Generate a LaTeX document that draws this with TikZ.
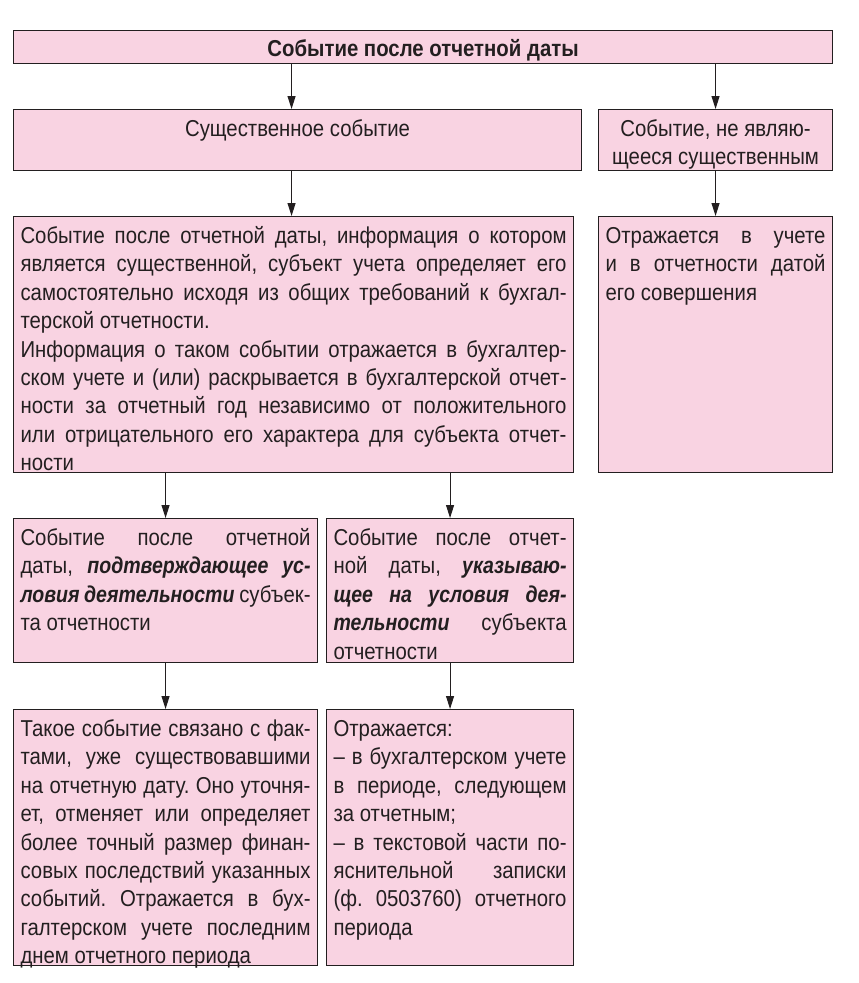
\documentclass[tikz,border=0pt]{standalone}
\usepackage{fontspec}
\setmainfont{Liberation Sans}[FakeStretch=0.885,BoldItalicFeatures={FakeStretch=0.85}]
\usepackage{xcolor}
\usepackage{tikz}
\usetikzlibrary{arrows.meta}

\definecolor{cardpink}{RGB}{249,211,226}
\definecolor{linec}{RGB}{35,31,32}

% text block of a card: width, height, content
\newcommand{\cardtext}[3]{\parbox[t][#2][t]{#1}{\rule{0pt}{27pt}#3}}
\newcommand{\bi}[1]{\textbf{\textit{#1}}}

\begin{document}
\fontsize{23}{28.4}\selectfont
\frenchspacing
\spaceskip=.27em plus .5em minus .11em
\hyphenpenalty=10000 \tolerance=10000
\begin{tikzpicture}[
  x=1pt, y=-1pt,
  card/.style={draw=linec,fill=cardpink,text=linec,line width=1.1pt,inner xsep=7pt,inner ysep=0pt,anchor=north west},
  arr/.style={-{Triangle[length=13pt,width=8pt]},line width=1pt,draw=linec}
]
  \useasboundingbox[fill=white] (0,0) rectangle (859,983);

  \node[card] (top) at (13,30) {\parbox[t][33pt][t]{805pt}{\centering\rule{0pt}{26pt}\textbf{Событие после отчетной даты}}};
  \node[card] (sus) at (13,109) {\cardtext{554pt}{61pt}{\centering Существенное событие}};
  \node[card] (nonmat) at (598,109) {\cardtext{220pt}{61pt}{\centering Событие, не являю-\\щееся существенным}};

  \node[card] (big) at (13,216) {\cardtext{546pt}{256pt}{Событие после отчетной даты, информация о котором\linebreak
    является существенной, субъект учета определяет его\linebreak
    самостоятельно исходя из общих требований к бухгал-\linebreak
    терской отчетности.\\
    Информация о таком событии отражается в бухгалтер-\linebreak
    ском учете и (или) раскрывается в бухгалтерской отчет-\linebreak
    ности за отчетный год независимо от положительного\linebreak
    или отрицательного его характера для субъекта отчет-\linebreak
    ности}};
  \node[card] (reflect) at (598,216) {\cardtext{220pt}{256pt}{Отражается в учете\linebreak
    и в отчетности датой\linebreak
    его совершения}};

  \node[card] (ml) at (13,518) {\cardtext{290pt}{144pt}{Событие после отчетной\linebreak
    даты, \bi{подтверждающее ус-}\linebreak
    \bi{ловия деятельности} субъек-\linebreak
    та отчетности}};
  \node[card] (mr) at (326,518) {\cardtext{233pt}{144pt}{Событие после отчет-\linebreak
    ной даты, \bi{указываю-}\linebreak
    \bi{щее на условия дея-}\linebreak
    \bi{тельности} субъекта\linebreak
    отчетности}};

  \node[card] (bl) at (13,709) {\cardtext{290pt}{256pt}{Такое событие связано с фак-\linebreak
    тами, уже существовавшими\linebreak
    на отчетную дату. Оно уточня-\linebreak
    ет, отменяет или определяет\linebreak
    более точный размер финан-\linebreak
    совых последствий указанных\linebreak
    событий. Отражается в бух-\linebreak
    галтерском учете последним\linebreak
    днем отчетного периода}};
  \node[card] (br) at (326,709) {\cardtext{233pt}{256pt}{Отражается:\\
    – в бухгалтерском учете\linebreak
    в периоде, следующем\linebreak
    за отчетным;\\
    – в текстовой части по-\linebreak
    яснительной записки\linebreak
    (ф. 0503760) отчетного\linebreak
    периода}};

  % arrows
  \draw[arr] ([xshift=-6pt]sus.north |- top.south) -- ([xshift=-6pt]sus.north);
  \draw[arr] (nonmat.north |- top.south) -- (nonmat.north);
  \draw[arr] ([xshift=-6pt]sus.south) -- ([xshift=-6pt]sus.south |- big.north);
  \draw[arr] (nonmat.south) -- (nonmat.south |- reflect.north);
  \draw[arr] (ml.north |- big.south) -- (ml.north);
  \draw[arr] (mr.north |- big.south) -- (mr.north);
  \draw[arr] (ml.south) -- (bl.north);
  \draw[arr] (mr.south) -- (br.north);
\end{tikzpicture}
\end{document}
